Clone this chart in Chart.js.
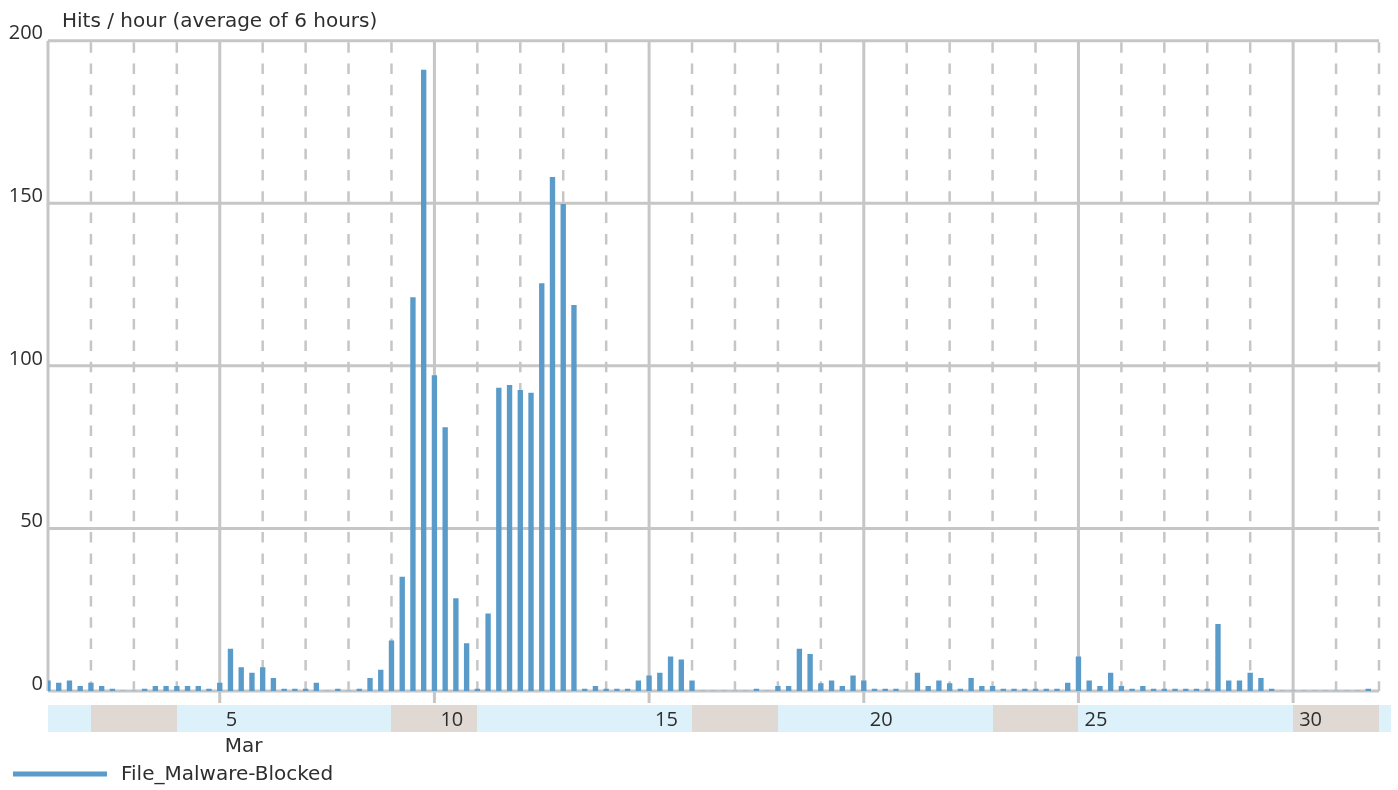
<!DOCTYPE html>
<html>
<head>
<meta charset="utf-8">
<script src="https://cdn.jsdelivr.net/npm/chart.js@4.4.1/dist/chart.umd.min.js"></script>
<style>
    html, body { margin: 0; padding: 0; background: #fff; }
</style>
</head>
<body>
<canvas id="canvasHits" width="1398" height="790"></canvas>
<script>
// 6-hour buckets starting 1 Mar 00:00, four per day (00, 06, 12, 18h)
var hitsPerHour = [
    3.1, 2.4, 3.1, 1.4,     // Mar 1
    2.4, 1.4, 0.6, 0,       // Mar 2
    0, 0.6, 1.4, 1.4,       // Mar 3
    1.4, 1.4, 1.4, 0.6,     // Mar 4
    2.4, 12.9, 7.2, 5.5,    // Mar 5
    7.2, 3.9, 0.6, 0.6,     // Mar 6
    0.6, 2.4, 0, 0.6,       // Mar 7
    0, 0.6, 3.9, 6.4,       // Mar 8
    15.4, 35, 121, 191,     // Mar 9
    97, 81, 28.4, 14.6,     // Mar 10
    0.6, 23.7, 93.2, 94,    // Mar 11
    92.5, 91.6, 125.3, 158, // Mar 12
    149.7, 118.6, 0.6, 1.4, // Mar 13
    0.6, 0.6, 0.6, 3.1,     // Mar 14
    4.7, 5.5, 10.5, 9.6,    // Mar 15
    3.1, 0, 0, 0,           // Mar 16
    0, 0, 0.6, 0,           // Mar 17
    1.4, 1.4, 12.9, 11.3,   // Mar 18
    2.3, 3.1, 1.4, 4.7,     // Mar 19
    3.1, 0.6, 0.6, 0.6,     // Mar 20
    0, 5.5, 1.4, 3.1,       // Mar 21
    2.3, 0.6, 3.9, 1.4,     // Mar 22
    1.4, 0.6, 0.6, 0.6,     // Mar 23
    0.6, 0.6, 0.6, 2.4,     // Mar 24
    10.5, 3.1, 1.4, 5.5,    // Mar 25
    1.4, 0.6, 1.4, 0.6,     // Mar 26
    0.6, 0.6, 0.6, 0.6,     // Mar 27
    0.6, 20.5, 3.1, 3.1,    // Mar 28
    5.5, 3.9, 0.6, 0,       // Mar 29
    0, 0, 0, 0,             // Mar 30
    0, 0, 0, 0.6            // Mar 31
];
var bucketsPerDay = 4;
var daysShown = 31;
var weekendDays = [2, 3, 9, 10, 16, 17, 23, 24, 30, 31];
var dayLabels = ["5", "10", "15", "20", "25", "30"];
var monthLabel = "Mar";
var yTicks = [0, 50, 100, 150, 200];
var axisTitle = "Hits / hour (average of 6 hours)";
var seriesName = "File_Malware-Blocked";

var corBarra = "#5a9bc9";
var corGrade = "#c6c6c6";
var corTexto = "#2e2e2e";
var fonteNumeros = '"Open Sans", "Noto Sans", sans-serif';
var fonteTexto = '"DejaVu Sans", sans-serif';

var pontos = hitsPerHour.map(function (v, i) {
    return { x: i / bucketsPerDay, y: v };
});

function corDoDia(d) {
    return weekendDays.indexOf(d + 1) >= 0 ? "#e0d9d3" : "#dcf1f9";
}

// grid lines + bottom calendar strip, placed with the chart's own scales
var calendarioPlugin = {
    id: "calendario",
    beforeDatasetsDraw: function (chart) {
        var ctx = chart.ctx;
        var area = chart.chartArea;
        var xs = chart.scales.x;
        var ys = chart.scales.y;
        ctx.save();
        ctx.strokeStyle = corGrade;

        // vertical day lines
        for (var d = 0; d <= daysShown; d++) {
            var px = xs.getPixelForValue(d);
            var dia = d + 1;
            ctx.beginPath();
            if (d === 0 || dia % 5 === 0) {
                ctx.setLineDash([]);
                ctx.lineWidth = 3;
                ctx.moveTo(px, area.top);
                ctx.lineTo(px, d === 0 ? area.bottom : area.bottom + 12);
            } else {
                ctx.setLineDash([10.5, 10.8]);
                ctx.lineWidth = 2.5;
                ctx.moveTo(px, area.top + 1.5);
                ctx.lineTo(px, area.bottom);
            }
            ctx.stroke();
        }

        // horizontal value lines
        ctx.setLineDash([]);
        ctx.lineWidth = 3;
        yTicks.forEach(function (t) {
            var py = ys.getPixelForValue(t);
            ctx.beginPath();
            ctx.moveTo(area.left, py);
            ctx.lineTo(area.right, py);
            ctx.stroke();
        });
        ctx.restore();
    },
    afterDraw: function (chart) {
        var ctx = chart.ctx;
        var area = chart.chartArea;
        var xs = chart.scales.x;
        ctx.save();

        // weekday / weekend strip, one rect per run of same colour
        var topo = area.bottom + 14;
        var altura = 27;
        var limite = area.right + 12;
        var inicio = 0;
        for (var d = 1; d <= daysShown + 1; d++) {
            if (d === daysShown + 1 || corDoDia(d) !== corDoDia(inicio)) {
                var x0 = Math.round(xs.getPixelForValue(inicio));
                var x1 = Math.round(Math.min(xs.getPixelForValue(d), limite));
                ctx.fillStyle = corDoDia(inicio);
                ctx.fillRect(x0, topo, x1 - x0, altura);
                inicio = d;
            }
        }

        ctx.fillStyle = corTexto;
        ctx.font = "20px " + fonteNumeros;
        ctx.textAlign = "left";
        ctx.textBaseline = "alphabetic";
        dayLabels.forEach(function (lbl) {
            var px = xs.getPixelForValue(parseInt(lbl, 10) - 1);
            ctx.fillText(lbl, px + 6, area.bottom + 35);
        });
        ctx.font = "20px " + fonteTexto;
        ctx.fillText(monthLabel, xs.getPixelForValue(4) + 5, area.bottom + 61);

        // title above the plot
        ctx.fillText(axisTitle, area.left + 14, area.top - 14);

        // legend
        ctx.strokeStyle = corBarra;
        ctx.lineWidth = 5;
        ctx.beginPath();
        ctx.moveTo(13, area.bottom + 83);
        ctx.lineTo(107, area.bottom + 83);
        ctx.stroke();
        ctx.textBaseline = "middle";
        ctx.fillText(seriesName, 121, area.bottom + 84);
        ctx.restore();
    }
};

var graficoHits = new Chart(document.getElementById("canvasHits"), {
    type: "bar",
    data: {
        datasets: [{
            label: seriesName,
            data: pontos,
            backgroundColor: corBarra,
            borderWidth: 0,
            barThickness: 4.7
        }]
    },
    options: {
        responsive: false,
        animation: false,
        devicePixelRatio: 1,
        layout: { padding: { top: 40.7, right: 19, bottom: 99, left: 0 } },
        plugins: {
            legend: { display: false },
            tooltip: { enabled: false },
            title: { display: false }
        },
        scales: {
            x: {
                type: "linear",
                min: 0,
                max: daysShown,
                offset: false,
                display: false
            },
            y: {
                min: 0,
                max: 200,
                grid: { display: false, drawTicks: false },
                border: { display: false },
                ticks: {
                    stepSize: 50,
                    padding: 5,
                    labelOffset: -7,
                    color: corTexto,
                    font: { family: fonteNumeros, size: 20 }
                },
                afterFit: function (scale) { scale.width = 48; }
            }
        }
    },
    plugins: [calendarioPlugin]
});
</script>
</body>
</html>
